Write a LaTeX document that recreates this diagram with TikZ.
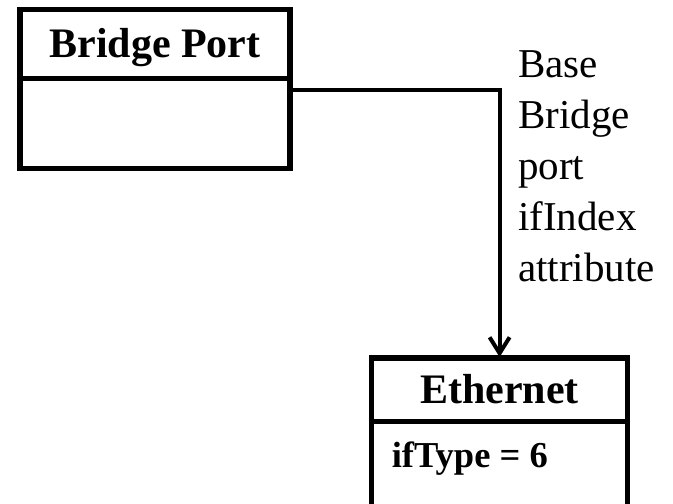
\documentclass[tikz,border=0pt]{standalone}
\usepackage{fontspec}
\setmainfont{Liberation Serif}
\usetikzlibrary{arrows.meta,positioning}

\begin{document}
\begin{tikzpicture}[x=1pt, y=-1pt,
    classtitle/.style={rectangle, draw, line width=5.5pt, inner sep=0pt, outer sep=0pt, font=\fontsize{42}{51}\selectfont\bfseries, text height=27pt, text depth=0pt},
    classbody/.style={rectangle, draw, line width=5.5pt, inner sep=0pt, outer sep=0pt},
    attr/.style={inner sep=0pt, font=\fontsize{36.5}{44}\selectfont\bfseries},
    lbl/.style={inner sep=0pt, align=left, font=\fontsize{41}{51}\selectfont},
    link/.style={-{Straight Barb[length=16pt,width=20pt]}, line width=4pt, shorten >=1pt}
]
    \useasboundingbox (0,0) rectangle (673,504);
    \clip (0,0) rectangle (673,504);

    % Bridge Port class
    \node[classtitle, minimum width=270pt, minimum height=69pt] (bpTitle) at (155,44) {Bridge Port};
    \node[classbody, minimum width=270pt, minimum height=90pt, below=0pt of bpTitle] (bpBody) {};

    % Ethernet class (runs off the bottom)
    \node[classtitle, minimum width=256pt, minimum height=63.5pt] (ethTitle) at (499.6,389.8) {Ethernet};
    \node[classbody, minimum width=256pt, minimum height=120pt, below=0pt of ethTitle] (ethBody) {};
    \node[attr, anchor=base west] (ethAttr) at ([xshift=20pt, yshift=-46pt]ethBody.north west) {ifType = 6};

    % Link
    \draw[link] ([yshift=-11.5pt]bpBody.north east) -| (ethTitle.north);
    \node[lbl, anchor=north west] (ifLabel) at (518,50) {Base\\Bridge\\port\\ifIndex\\attribute};
\end{tikzpicture}
\end{document}
